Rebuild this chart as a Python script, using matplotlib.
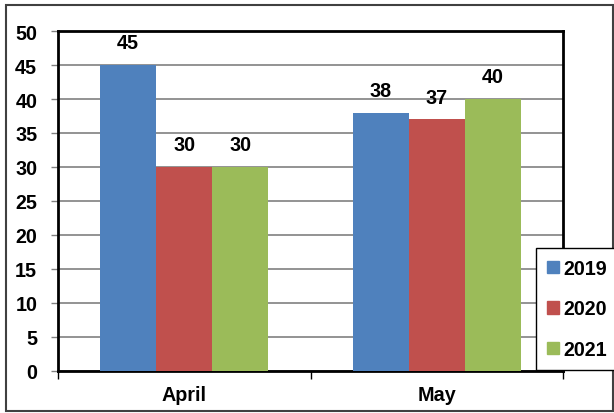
import numpy as np
import matplotlib
matplotlib.use('Agg')
import matplotlib.pyplot as plt
from matplotlib.patches import Patch, Rectangle

plt.rcParams['font.family'] = ['Liberation Sans', 'DejaVu Sans']
plt.rcParams['font.weight'] = 'bold'

months = ['April', 'May']
years = ['2019', '2020', '2021']
v2019 = [45, 38]
v2020 = [30, 37]
v2021 = [30, 40]
colors = ['#4F81BD', '#C0504D', '#9BBB59']

fig = plt.figure(figsize=(6.14, 4.14), dpi=100)
ax = fig.add_axes([58/614, 42/414, 505/614, 340/414])

x = np.arange(len(months))
w = 0.222
fs = 14.2
series = [v2019, v2020, v2021]
for i, vals in enumerate(series):
    bars = ax.bar(x + (i - 1) * w, vals, w, color=colors[i], zorder=3)
    for b, v in zip(bars, vals):
        ax.annotate(str(v), (b.get_x() + b.get_width() / 2, v),
                    xytext=(0, 16), textcoords='offset points',
                    ha='center', va='center', fontsize=fs, fontweight='bold')

ax.set_xlim(-0.5, 1.5)
ax.set_ylim(0, 50)
ax.set_yticks(range(0, 51, 5))
ax.yaxis.grid(True, color='#808080', linewidth=1.2, zorder=0)
ax.set_axisbelow(True)
for s in ax.spines.values():
    s.set_linewidth(2)
    s.set_color('black')
ax.tick_params(axis='y', labelsize=fs, length=5, width=1, color='#808080', pad=10)
ax.set_xticks([-0.5, 0.5, 1.5])
ax.set_xticklabels([])
ax.set_xticks(x, minor=True)
ax.set_xticklabels(months, minor=True, fontsize=fs, fontweight='bold')
ax.tick_params(axis='x', which='major', length=6, width=1, color='black')
ax.tick_params(axis='x', which='minor', length=0, pad=10)
for t in ax.get_yticklabels():
    t.set_fontweight('bold')

handles = [Patch(color=c) for c in colors]
leg = fig.legend(handles, years, loc='lower left',
                 bbox_to_anchor=(536/614, 43/414), borderaxespad=0, fontsize=fs,
                 frameon=True, fancybox=False, edgecolor='black',
                 framealpha=1, handlelength=0.6, handleheight=0.6,
                 handletextpad=0.25, labelspacing=1.1, borderpad=0.55)
leg.get_frame().set_linewidth(1)
for t in leg.get_texts():
    t.set_fontweight('bold')

fig.patches.append(Rectangle((6/614, 2/414), 607/614, 406/414, transform=fig.transFigure,
                             fill=False, edgecolor='#404040', linewidth=1.5))

fig.savefig('out.png', dpi=100)
